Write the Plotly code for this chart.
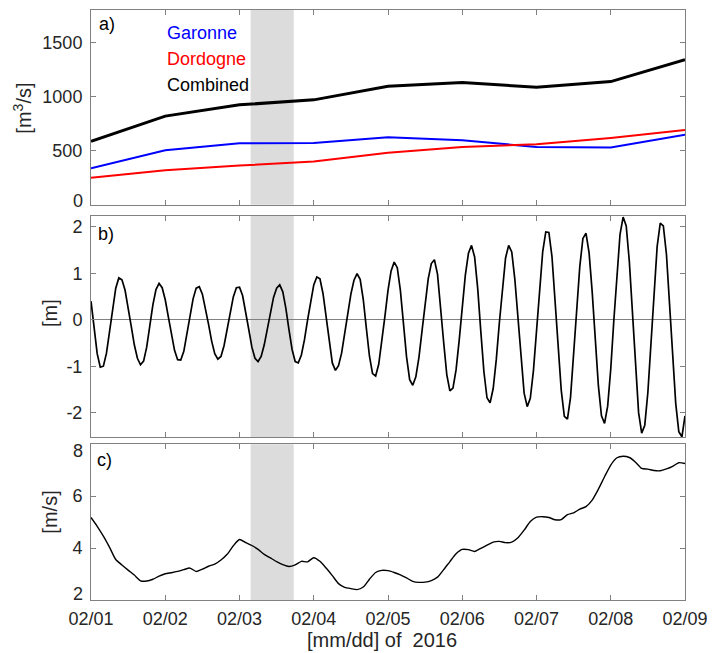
import plotly.graph_objects as go

# ---------------- data ----------------
day_ticks = [0, 1, 2, 3, 4, 5, 6, 7, 8]
day_labels = ["02/01", "02/02", "02/03", "02/04", "02/05", "02/06", "02/07", "02/08", "02/09"]

# daily river discharge [m3/s]
discharge_days = [0, 1, 2, 3, 4, 5, 6, 7, 8]
garonne = [337, 503, 567, 570, 623, 595, 534, 528, 647]
dordogne = [248, 319, 362, 399, 479, 534, 558, 617, 690]
combined = [586, 819, 923, 969, 1095, 1129, 1086, 1138, 1340]

# hourly water level anomaly [m], starting 02/01 00:00
tide_level = [
    0.40, -0.20, -0.73, -1.02, -1.00, -0.72, -0.25, 0.26, 0.68, 0.90,
    0.86, 0.64, 0.28, -0.14, -0.54, -0.83, -0.97,
    -0.89, -0.59, -0.14, 0.32, 0.65, 0.78,
    0.69, 0.43, 0.06, -0.33, -0.66, -0.86,
    -0.87, -0.68, -0.33, 0.08, 0.45, 0.68,
    0.71, 0.55, 0.26, -0.10, -0.46, -0.73, -0.85,
    -0.79, -0.56, -0.22, 0.16, 0.49, 0.69,
    0.70, 0.52, 0.19, -0.21, -0.59, -0.83,
    -0.90, -0.79, -0.54, -0.20, 0.16, 0.48, 0.68,
    0.75, 0.60, 0.24, -0.22, -0.64, -0.90,
    -0.93, -0.76, -0.43, -0.01, 0.42, 0.75, 0.92,
    0.88, 0.56, 0.04, -0.52, -0.93, -1.09,
    -0.99, -0.72, -0.32, 0.13, 0.55, 0.85, 0.99,
    0.87, 0.44, -0.18, -0.78, -1.16,
    -1.21, -0.96, -0.50, 0.07, 0.63, 1.05, 1.24,
    1.12, 0.63, -0.09, -0.80, -1.29,
    -1.41, -1.23, -0.81, -0.24, 0.36, 0.88, 1.21,
    1.29, 0.98, 0.32, -0.49, -1.18, -1.53,
    -1.47, -1.08, -0.45, 0.28, 0.96, 1.43, 1.60,
    1.35, 0.67, -0.25, -1.12, -1.68,
    -1.79, -1.48, -0.86, -0.06, 0.73, 1.33, 1.60,
    1.46, 0.87, 0.01, -0.89, -1.58, -1.87,
    -1.69, -1.10, -0.24, 0.68, 1.46, 1.89,
    1.88, 1.36, 0.46, -0.59, -1.52, -2.08,
    -2.14, -1.67, -0.82, 0.21, 1.15, 1.75,
    1.86, 1.44, 0.60, -0.45, -1.42, -2.07,
    -2.23, -1.86, -1.06, -0.01, 1.04, 1.84, 2.21,
    2.02, 1.26, 0.13, -1.07, -2.00, -2.44,
    -2.27, -1.56, -0.51, 0.64, 1.58, 2.08,
    2.02, 1.41, 0.39, -0.78, -1.80, -2.41,
    -2.52, -2.07,
]
tide_hours = list(range(len(tide_level)))

# wind speed every 2 hours [m/s]
wind_speed = [
    5.18, 4.84, 4.46, 4.03, 3.56, 3.35, 3.15, 2.96, 2.74, 2.73, 2.80, 2.92,
    3.01, 3.05, 3.10, 3.17, 3.23, 3.10, 3.19, 3.30, 3.38, 3.54, 3.76, 4.09,
    4.33, 4.21, 4.10, 3.95, 3.76, 3.62, 3.48, 3.36, 3.29, 3.35, 3.49, 3.47,
    3.63, 3.49, 3.23, 2.94, 2.63, 2.49, 2.44, 2.40, 2.50, 2.80, 3.06, 3.14,
    3.13, 3.06, 2.97, 2.85, 2.72, 2.68, 2.69, 2.75, 2.88, 3.17, 3.48, 3.78,
    3.95, 3.94, 3.87, 3.99, 4.11, 4.23, 4.26, 4.21, 4.23, 4.40, 4.69, 5.02,
    5.19, 5.21, 5.18, 5.09, 5.10, 5.29, 5.36, 5.50, 5.60, 5.85, 6.27, 6.75,
    7.20, 7.48, 7.54, 7.49, 7.31, 7.07, 7.04, 6.99, 6.98, 7.05, 7.15, 7.29,
    7.26,
]
wind_hours = [2 * i for i in range(len(wind_speed))]

# y tick values per panel
q_ticks = [0, 500, 1000, 1500]
h_ticks = [-2, -1, 0, 1, 2]
u_ticks = [2, 4, 6, 8]

# highlighted period (days since 02/01 00:00)
band_start = 2.15
band_end = 2.73

# ---------------- styling ----------------
FONT = "Liberation Sans, Arial, sans-serif"
AX = "#808080"
TXT = "#262626"
W, H = 717, 653
ML, MR, MT, MB = 91, 25, 9, 53
PW, PH = W - ML - MR, H - MT - MB


def px_x(px):
    return (px - ML) / PW


def px_y(py):
    return (H - MB - py) / PH


fig = go.Figure()

fig.add_trace(go.Scatter(x=discharge_days, y=combined, mode="lines",
                         line=dict(color="black", width=3), xaxis="x", yaxis="y"))
fig.add_trace(go.Scatter(x=discharge_days, y=garonne, mode="lines",
                         line=dict(color="#0000ff", width=2), xaxis="x", yaxis="y"))
fig.add_trace(go.Scatter(x=discharge_days, y=dordogne, mode="lines",
                         line=dict(color="#ff0000", width=2), xaxis="x", yaxis="y"))

fig.add_trace(go.Scatter(x=[h / 24 for h in tide_hours], y=tide_level, mode="lines",
                         line=dict(color="black", width=1.7), xaxis="x2", yaxis="y2"))

fig.add_trace(go.Scatter(x=[h / 24 for h in wind_hours], y=wind_speed, mode="lines",
                         line=dict(color="black", width=1.4, shape="spline", smoothing=0.6),
                         xaxis="x3", yaxis="y3"))

common = dict(showline=True, linecolor=AX, linewidth=1, mirror="ticks",
              ticks="inside", ticklen=5, tickwidth=1, tickcolor=AX,
              showgrid=False, zeroline=False,
              tickfont=dict(family=FONT, size=18, color=TXT))
ycommon = dict(common, ticklabelstandoff=4)

dom_a = [px_y(204), px_y(MT)]
dom_b = [px_y(437), px_y(215)]
dom_c = [px_y(600), px_y(444)]

xcommon = dict(common, range=[0, 8], tickvals=day_ticks, ticktext=day_labels)


def label(v):
    # plain hyphen for negatives
    return str(v)


def inner_labels(vals):
    # first/last labels are drawn separately, nudged inside the frame
    return ["" if i in (0, len(vals) - 1) else label(v) for i, v in enumerate(vals)]


fig.update_layout(
    width=W, height=H,
    margin=dict(l=ML, r=MR, t=MT, b=MB),
    paper_bgcolor="white", plot_bgcolor="white",
    showlegend=False,
    font=dict(family=FONT, size=18, color=TXT),
    xaxis=dict(xcommon, anchor="y", showticklabels=False),
    yaxis=dict(ycommon, domain=dom_a, anchor="x", range=[0, 1800],
               tickvals=q_ticks,
               ticktext=[""] + [label(v) for v in q_ticks[1:]]),
    xaxis2=dict(xcommon, anchor="y2", showticklabels=False),
    yaxis2=dict(ycommon, domain=dom_b, anchor="x2", range=[-2.53, 2.24],
                tickvals=h_ticks, ticktext=[label(v) for v in h_ticks],
                zeroline=True, zerolinecolor=AX, zerolinewidth=1),
    xaxis3=dict(xcommon, anchor="y3", ticklabelstandoff=2),
    yaxis3=dict(ycommon, domain=dom_c, anchor="x3", range=[2, 8],
                tickvals=u_ticks, ticktext=inner_labels(u_ticks)),
)

for xr, yr in (("x", "y"), ("x2", "y2"), ("x3", "y3")):
    fig.add_shape(type="rect", xref=xr, yref=yr + " domain",
                  x0=band_start, x1=band_end, y0=0, y1=1,
                  fillcolor="#dcdcdc", line=dict(width=0), layer="below")


def note(text, px, py, color=TXT, xanchor="left", angle=0, size=18):
    fig.add_annotation(text=text, xref="paper", yref="paper",
                       x=px_x(px), y=px_y(py), xanchor=xanchor, yanchor="middle",
                       showarrow=False, textangle=angle,
                       font=dict(family=FONT, size=size, color=color))


# edge tick labels kept inside the frame
note(label(q_ticks[0]), 85, 200, xanchor="right")
note(label(u_ticks[-1]), 85, 451, xanchor="right")
note(label(u_ticks[0]), 85, 594, xanchor="right")

# panel tags
note("a)", 97, 23, color="black")
note("b)", 96, 233, color="black")
note("c)", 95, 460, color="black")

# series labels
note("Garonne", 166, 32, color="#0000ff")
note("Dordogne", 166, 58, color="#ff0000")
note("Combined", 166, 84, color="black")

# axis titles
note("[m<sup>3</sup>/s]", 22, 107, xanchor="center", angle=-90, size=20)
note("[m]", 50, 312, xanchor="center", angle=-90, size=20)
note("[m/s]", 50, 512, xanchor="center", angle=-90, size=20)
note("[mm/dd] of\u00a0 2016", 385, 640, xanchor="center", size=20)

fig.write_html("out.html")
